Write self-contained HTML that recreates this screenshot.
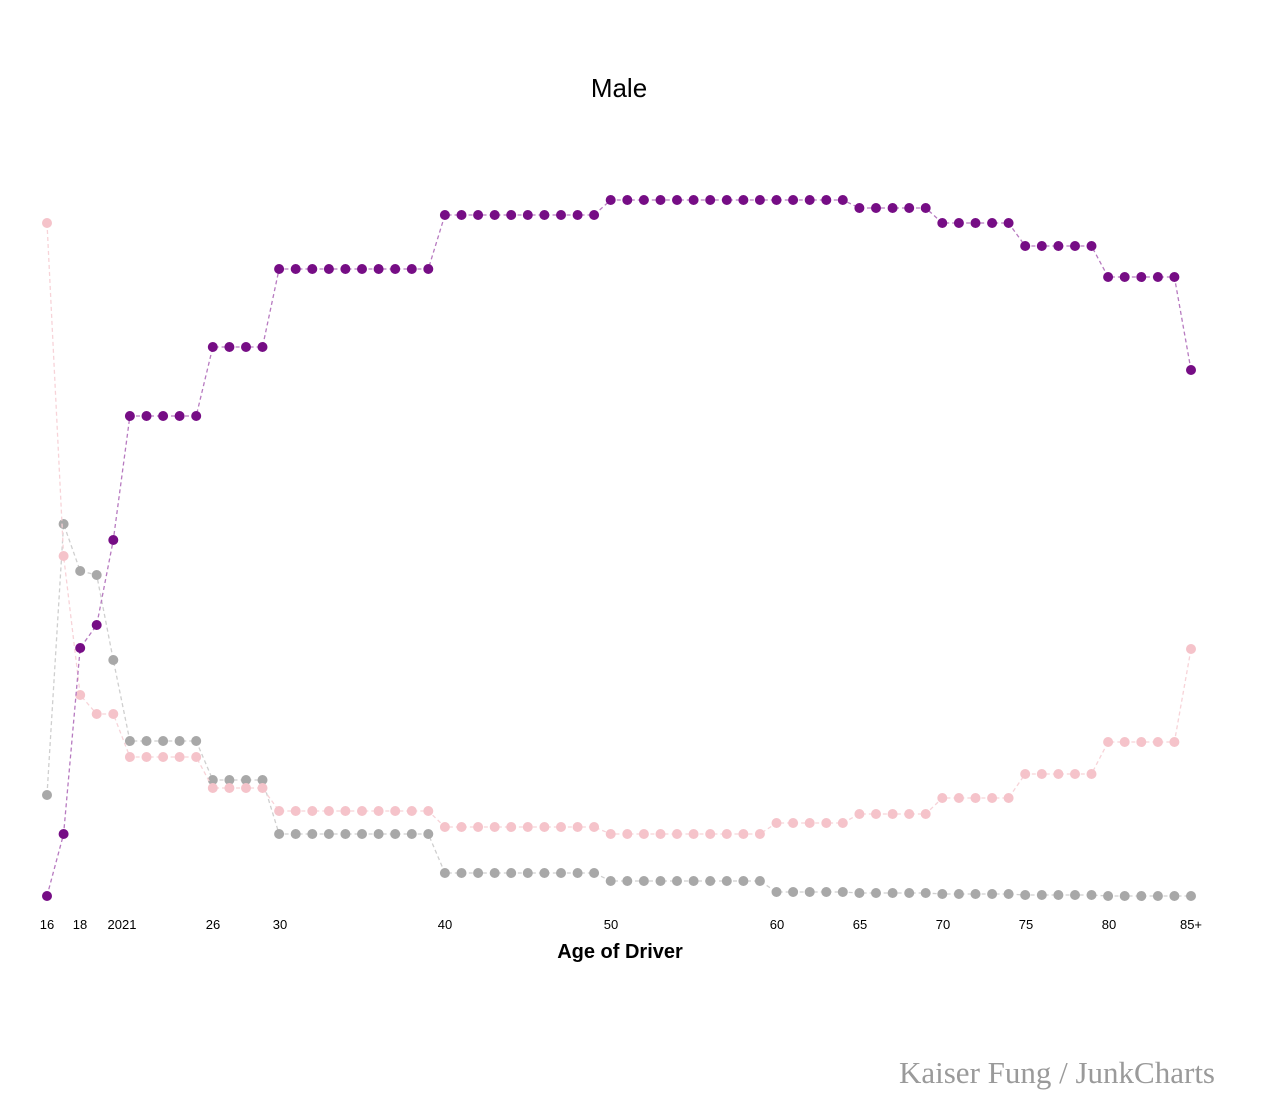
<!DOCTYPE html>
<html><head><meta charset="utf-8"><style>
html,body{margin:0;padding:0;background:#fff;}
svg{display:block;}
</style></head><body>
<svg id="s" width="1274" height="1114" xmlns="http://www.w3.org/2000/svg">
<text x="619" y="97" font-family="Liberation Sans, sans-serif" font-size="26" text-anchor="middle" fill="#000">Male</text>
<g font-family="Liberation Sans, sans-serif" font-size="13" text-anchor="middle" fill="#000">
<text x="47" y="929">16</text><text x="80" y="929">18</text><text x="122" y="929">2021</text>
<text x="213" y="929">26</text><text x="280" y="929">30</text><text x="445" y="929">40</text>
<text x="611" y="929">50</text><text x="777" y="929">60</text><text x="860" y="929">65</text>
<text x="943" y="929">70</text><text x="1026" y="929">75</text><text x="1109" y="929">80</text>
<text x="1191" y="929">85+</text>
</g>
<text x="620" y="958" font-family="Liberation Sans, sans-serif" font-size="20" font-weight="bold" text-anchor="middle" fill="#000">Age of Driver</text>
<text x="1215" y="1083" font-family="Liberation Serif, serif" font-size="31" text-anchor="end" fill="#9a9a9a">Kaiser Fung / JunkCharts</text>
<g id="g"></g>
</svg>
<script>
function ex(a,segs){var r=a.slice();segs.forEach(function(s){for(var i=0;i<s[0];i++)r.push(s[1]);});return r;}
var purple=ex([896,834,648,625,540],[[5,416],[4,347],[10,269],[10,215],[15,200],[5,208],[5,223],[5,246],[5,277],[1,370]]);
var pink=ex([223,556,695,714,714],[[5,757],[4,788],[10,811],[10,827],[10,834],[5,823],[5,814],[5,798],[5,774],[5,742],[1,649]]);
var gray=ex([795,524,571,575,660],[[5,741],[4,780],[10,834],[10,873],[10,881],[5,892],[5,893],[5,894],[5,895],[5,896],[1,896]]);
var g=document.getElementById('g'),h='';
function x(i){return 47+i*16.58;}
[[gray,'#a8a8a8','#cfcfcf'],[pink,'#f5c3ca','#f7d3d8'],[purple,'#760d85','#b77ac0']].forEach(function(s){
 var d=s[0].map(function(v,i){return (i?'L':'M')+x(i).toFixed(1)+' '+v;}).join('');
 h+='<path d="'+d+'" fill="none" stroke="'+s[2]+'" stroke-width="1.3" stroke-dasharray="4,3"/>';
 s[0].forEach(function(v,i){h+='<circle cx="'+x(i).toFixed(1)+'" cy="'+v+'" r="5" fill="'+s[1]+'"/>';});
});
g.innerHTML=h;
</script>
</body></html>
